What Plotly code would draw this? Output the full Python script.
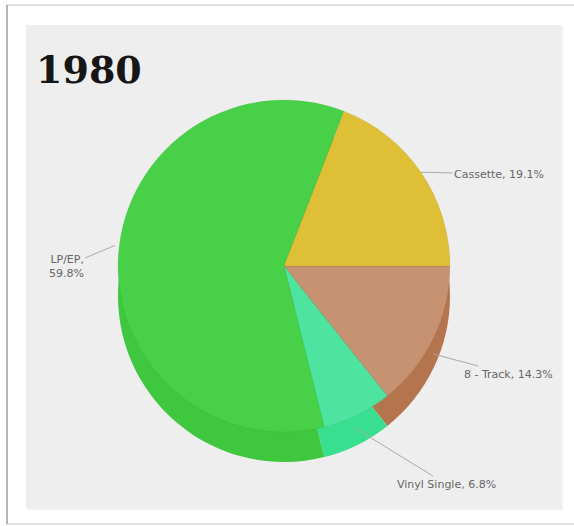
import math
import plotly.graph_objects as go

# ---- data ----
title_text = "1980"
labels = ["8 - Track", "Vinyl Single", "LP/EP", "Cassette"]
values = [14.3, 6.8, 59.8, 19.1]
top_colors = ["#c69272", "#4fe3a0", "#48d048", "#dfbf36"]
side_colors = ["#b4744e", "#38df8e", "#3fc83f", "#b4744e"]
wrap_labels = ["LP/EP"]

# ---- layout constants (pixels) ----
W, H = 574, 526
CX, CY, R = 284, 266, 166
DEPTH = 30


def domain(cx, cy, r):
    return dict(x=[(cx - r) / W, (cx + r) / W],
                y=[1 - (cy + r) / H, 1 - (cy - r) / H])


def px(x):
    return x / W


def py(y):
    return 1 - y / H


fig = go.Figure()

# side wall (lower pie) and top face
fig.add_trace(go.Pie(labels=labels, values=values, sort=False, direction="clockwise",
                     rotation=90, textinfo="none", hoverinfo="skip", showlegend=False,
                     marker=dict(colors=side_colors, line=dict(width=0)),
                     domain=domain(CX, CY + DEPTH, R)))
fig.add_trace(go.Pie(labels=labels, values=values, sort=False, direction="clockwise",
                     rotation=90, textinfo="none", showlegend=False,
                     hovertemplate="%{label}: %{value}%<extra></extra>",
                     marker=dict(colors=top_colors, line=dict(width=0.6, color="rgba(0,0,0,0.08)")),
                     domain=domain(CX, CY, R)))

# label placement (text centers in pixels) and head adjustments
text_centers = {"8 - Track": (508, 374), "Vinyl Single": (446, 484),
                "LP/EP": (66, 266), "Cassette": (499, 174)}
head_radius = {"8 - Track": 1.0, "Vinyl Single": 0.95, "LP/EP": 1.02, "Cassette": 1.0}
head_drop = {"8 - Track": 16, "Vinyl Single": 20, "LP/EP": -10, "Cassette": 0}

annotations = []
cum = 0.0
total = sum(values)
for lab, val in zip(labels, values):
    mid = -(cum + val / 2) / total * 2 * math.pi
    cum += val
    rr = R * head_radius[lab]
    hx = CX + rr * math.cos(mid)
    hy = CY - rr * math.sin(mid) + head_drop[lab]
    tx, ty = text_centers[lab]
    sep = ",<br>" if lab in wrap_labels else ", "
    annotations.append(dict(
        x=px(hx), y=py(hy), xref="paper", yref="paper",
        ax=tx - hx, ay=ty - hy, axref="pixel", ayref="pixel",
        text=f"{lab}{sep}{val:.1f}%", showarrow=True, arrowhead=0,
        arrowwidth=1, arrowcolor="#aaaaaa", align="right",
        font=dict(family="DejaVu Sans", size=11, color="#666666")))

annotations.append(dict(x=px(34), y=py(69), xref="paper", yref="paper",
                        xanchor="left", yanchor="middle", showarrow=False,
                        text=f"<b>{title_text}</b>",
                        font=dict(family="DejaVu Serif", size=38, color="#161616")))

shapes = [
    # outer frame
    dict(type="rect", xref="paper", yref="paper", x0=px(7), x1=px(580), y0=py(524), y1=py(5),
         line=dict(color="#e2e2e2", width=2), fillcolor="white", layer="below"),
    dict(type="line", xref="paper", yref="paper", x0=px(7), x1=px(7), y0=py(524), y1=py(5),
         line=dict(color="#b5b5b5", width=2), layer="below"),
    # panel shadow and panel
    dict(type="rect", xref="paper", yref="paper", x0=px(28), x1=px(563), y0=py(510), y1=py(27),
         line=dict(width=0), fillcolor="#f2f2f2", layer="below"),
    dict(type="rect", xref="paper", yref="paper", x0=px(26), x1=px(561), y0=py(508), y1=py(25),
         line=dict(width=0), fillcolor="#eeeeee", layer="below"),
]

fig.update_layout(width=W, height=H, margin=dict(l=0, r=0, t=0, b=0),
                  paper_bgcolor="white", plot_bgcolor="white",
                  annotations=annotations, shapes=shapes)

fig.write_html("out.html", config={"displayModeBar": False},
               post_script="document.body.style.margin='0';document.body.style.overflow='hidden';")
